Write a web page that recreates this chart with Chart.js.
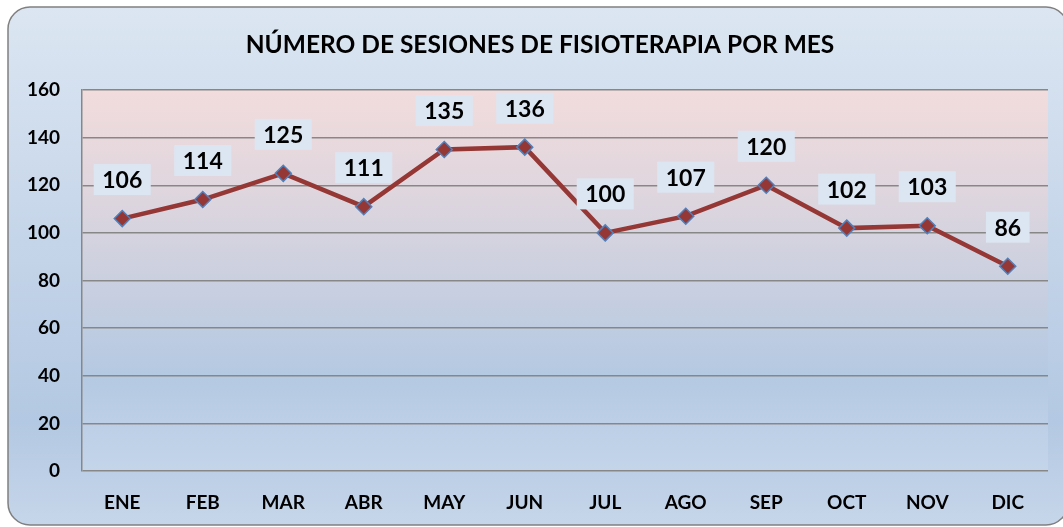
<!DOCTYPE html>
<html lang="es">
<head>
<meta charset="UTF-8">
<title>Número de sesiones de fisioterapia por mes</title>
<script src="https://cdn.jsdelivr.net/npm/chart.js@4"></script>
<style>
  html, body { margin: 0; padding: 0; background: #ffffff; }
  #wrap { position: relative; width: 1063px; height: 527px; }
</style>
</head>
<body>
<div id="wrap"><canvas id="chart"></canvas></div>
<script>
// ---------------------------------------------------------------------------
// Data
// ---------------------------------------------------------------------------
const months   = ['ENE', 'FEB', 'MAR', 'ABR', 'MAY', 'JUN', 'JUL', 'AGO', 'SEP', 'OCT', 'NOV', 'DIC'];
const sessions = [106, 114, 125, 111, 135, 136, 100, 107, 120, 102, 103, 86];
const yTicks   = [0, 20, 40, 60, 80, 100, 120, 140, 160];
const titleText = 'NÚMERO DE SESIONES DE FISIOTERAPIA POR MES';

const FONT = 'Lato, "Open Sans", sans-serif';

// Outer rounded frame + plot area gradient
const backgrounds = {
  id: 'backgrounds',
  beforeDraw(chart) {
    const { ctx, chartArea: a } = chart;
    ctx.save();
    const x = 8, y = 7, w = 1060, h = 518, r = 22;
    const g = ctx.createLinearGradient(0, y, 0, y + h);
    g.addColorStop(0, '#dce6f2');
    g.addColorStop(0.45, '#c5d5e9');
    g.addColorStop(0.8, '#b3c8e2');
    g.addColorStop(1, '#c6d6ea');
    ctx.beginPath();
    ctx.roundRect(x, y, w, h, r);
    ctx.fillStyle = g;
    ctx.fill();
    ctx.lineWidth = 1.5;
    ctx.strokeStyle = '#808080';
    ctx.stroke();

    const pg = ctx.createLinearGradient(0, a.top, 0, a.bottom);
    pg.addColorStop(0, '#f2dcdc');
    pg.addColorStop(0.3, '#dcd5de');
    pg.addColorStop(0.75, '#b4c9e2');
    pg.addColorStop(1, '#c4d5ea');
    ctx.fillStyle = pg;
    ctx.fillRect(a.left, a.top, a.right - a.left, a.bottom - a.top);
    ctx.restore();
  }
};

// Title, centred on the frame rather than the canvas
const frameTitle = {
  id: 'frameTitle',
  afterDraw(chart) {
    const { ctx } = chart;
    ctx.save();
    ctx.font = 'bold 24.5px ' + FONT;
    ctx.fillStyle = '#000000';
    ctx.textAlign = 'center';
    ctx.textBaseline = 'middle';
    ctx.fillText(titleText, 540, 45);
    ctx.restore();
  }
};

// Value labels in light boxes above each point
const valueLabels = {
  id: 'valueLabels',
  afterDatasetsDraw(chart) {
    const { ctx } = chart;
    const meta = chart.getDatasetMeta(0);
    ctx.save();
    ctx.font = 'bold 23px ' + FONT;
    ctx.textAlign = 'center';
    ctx.textBaseline = 'middle';
    meta.data.forEach((pt, i) => {
      const txt = String(sessions[i]);
      const tw = ctx.measureText(txt).width;
      const bw = tw + 17, bh = 31;
      const cx = pt.x, cy = pt.y - 39;
      ctx.fillStyle = '#dce6f2';
      ctx.fillRect(cx - bw / 2, cy - bh / 2, bw, bh);
      ctx.fillStyle = '#000000';
      ctx.fillText(txt, cx, cy + 1);
    });
    ctx.restore();
  }
};

new Chart(document.getElementById('chart'), {
  type: 'line',
  data: {
    labels: months,
    datasets: [{
      data: sessions,
      borderColor: '#953735',
      borderWidth: 4.5,
      pointStyle: 'rectRot',
      pointRadius: 8,
      pointHoverRadius: 8,
      pointBackgroundColor: '#953735',
      pointBorderColor: '#4f81bd',
      pointBorderWidth: 1.5,
      tension: 0
    }]
  },
  options: {
    responsive: true,
    maintainAspectRatio: false,
    animation: false,
    layout: { padding: { left: 0, right: 15, top: 90, bottom: 0 } },
    plugins: {
      legend: { display: false },
      tooltip: { enabled: false },
      title: { display: false }
    },
    scales: {
      x: {
        offset: true,
        afterFit(scale) { scale.height = 56; },
        grid: { display: false, drawTicks: false },
        border: { display: false },
        ticks: {
          color: '#000000',
          padding: 20,
          font: { family: FONT, size: 19, weight: 'bold' }
        }
      },
      y: {
        min: 0,
        max: 160,
        afterFit(scale) { scale.width = 82; },
        afterBuildTicks(scale) { scale.ticks = yTicks.map(v => ({ value: v })); },
        grid: { color: '#878787', lineWidth: 1.5, drawTicks: false },
        border: { display: true, color: '#878787', width: 1.5 },
        ticks: {
          color: '#000000',
          padding: 22,
          font: { family: FONT, size: 19, weight: 'bold' }
        }
      }
    }
  },
  plugins: [backgrounds, valueLabels, frameTitle]
});
</script>
</body>
</html>
